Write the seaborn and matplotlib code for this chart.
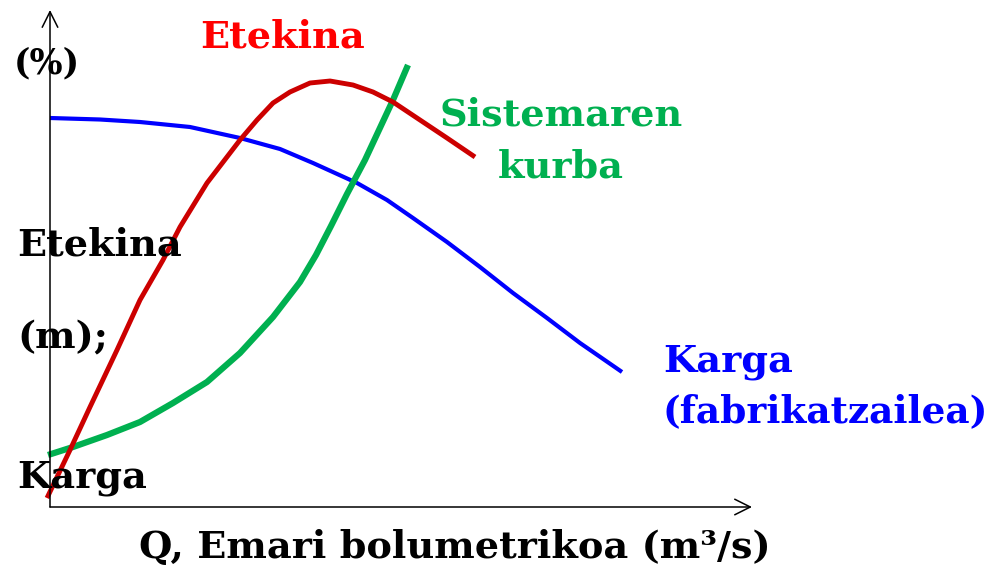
import matplotlib
matplotlib.use("Agg")
import matplotlib.pyplot as plt
import seaborn as sns
import pandas as pd

# ---- data (arbitrary units) ----
karga_q = [0, 5, 9, 14, 19, 23, 26.3, 30.7, 33.7, 36.3, 39.7, 43, 46.3, 49.7, 53, 57.2]
karga_h = [38.9, 38.75, 38.5, 38.0, 36.9, 35.8, 34.4, 32.4, 30.7, 28.9, 26.5, 24.0, 21.4, 18.9, 16.4, 13.5]

etekina_q = [-0.3, 2, 4, 6.7, 9, 11.3, 13, 15.7, 19, 20.7, 22.3, 24, 26, 28, 30.3, 32.3, 34.3, 37, 39.7, 42.5]
etekina_h = [0.9, 5.7, 10, 15.7, 20.7, 24.7, 28, 32.4, 36.7, 38.7, 40.4, 41.5, 42.4, 42.6, 42.2, 41.5, 40.5, 38.7, 36.9, 35]

sistema_q = [-0.2, 2.3, 5.7, 9, 12.3, 15.7, 19, 22.3, 25, 26.6, 28.1, 29.7, 31.5, 32.9, 34.3, 35.8]
sistema_h = [5.2, 6, 7.2, 8.5, 10.4, 12.5, 15.4, 19, 22.5, 25.2, 28.1, 31.3, 34.7, 37.7, 40.7, 44.2]

x_label = "Q, Emari bolumetrikoa (m³/s)"
y_labels = ["(%)", "Etekina", "(m);", "Karga"]

sns.set_style("white")
plt.rcParams['font.family'] = ['DejaVu Serif', 'DejaVu Sans']

fig = plt.figure(figsize=(9.97, 5.65), dpi=100)
ax = fig.add_axes([0, 0, 1, 1])

df_k = pd.DataFrame({"Q": karga_q, "H": karga_h})
df_e = pd.DataFrame({"Q": etekina_q, "H": etekina_h})
df_s = pd.DataFrame({"Q": sistema_q, "H": sistema_h})

common = dict(sort=False, ax=ax, solid_joinstyle="round", solid_capstyle="butt")
sns.lineplot(data=df_k, x="Q", y="H", color="#0000FF", lw=3.0, **common)
sns.lineplot(data=df_s, x="Q", y="H", color="#00B050", lw=4.5, **common)
sns.lineplot(data=df_e, x="Q", y="H", color="#CC0000", lw=3.5, **common)

ax.set_xlim(-5, 94.7)
ax.set_ylim(-5.8, 50.7)
ax.axis("off")

# axes with arrows
arrow = dict(arrowstyle="->", color="black", lw=1.1, mutation_scale=28, shrinkA=0, shrinkB=0)
ax.annotate("", xy=(0, 49.7), xytext=(0, 0), arrowprops=arrow)
ax.annotate("", xy=(70.2, 0), xytext=(0, 0), arrowprops=arrow)

fs = 27.5
bold = dict(fontweight="bold", fontsize=fs)
ax.text(-0.3, 43.4, y_labels[0], ha="center", va="baseline", color="black",
        fontweight="bold", fontsize=25)
ax.text(-3.3, 25.2, y_labels[1], ha="left", va="baseline", color="black", **bold)
ax.text(-3.3, 15.9, y_labels[2], ha="left", va="baseline", color="black", **bold)
ax.text(-3.3, 1.9, y_labels[3], ha="left", va="baseline", color="black", **bold)

ax.text(23.3, 46.0, "Etekina", ha="center", va="baseline", color="#FF0000", **bold)
ax.text(51.1, 38.2, "Sistemaren", ha="center", va="baseline", color="#00B050", **bold)
ax.text(51.1, 33.0, "kurba", ha="center", va="baseline", color="#00B050", **bold)
ax.text(61.3, 13.5, "Karga", ha="left", va="baseline", color="#0000FF", **bold)
ax.text(61.3, 8.5, "(fabrikatzailea)", ha="left", va="baseline", color="#0000FF",
        fontweight="bold", fontsize=27)

ax.text(40.5, -5.1, x_label, ha="center", va="baseline", color="black", **bold)

fig.savefig("out.png", dpi=100)
